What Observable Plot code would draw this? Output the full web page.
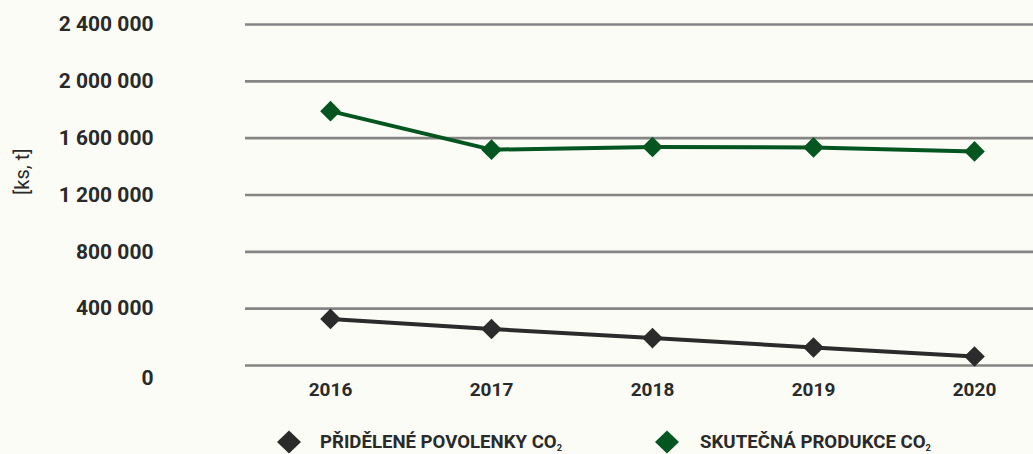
<!DOCTYPE html>
<html>
<head>
<meta charset="utf-8">
<script src="https://cdn.jsdelivr.net/npm/d3@7"></script>
<script src="https://cdn.jsdelivr.net/npm/@observablehq/plot@0.6"></script>
<style>
  html, body { margin: 0; padding: 0; background: #fbfcf5; }
  #chart svg { display: block; }
  #legend { display: block; }
</style>
</head>
<body>
<div id="chart"></div>
<script>
// ---- data ----
const years = ["2016", "2017", "2018", "2019", "2020"];
const seriesNames = ["PŘIDĚLENÉ POVOLENKY CO₂", "SKUTEČNÁ PRODUKCE CO₂"];
const seriesColors = ["#2b2b2b", "#03561f"];
const allocated = [328000, 257000, 193000, 127000, 63000];
const actual = [1790000, 1519000, 1538000, 1535000, 1507000];
const yTicks = [0, 400000, 800000, 1200000, 1600000, 2000000, 2400000];
const yAxisLabel = "[ks, t]";

// ---- table ----
const rows = [];
years.forEach((y, i) => {
  rows.push({year: y, series: seriesNames[0], value: allocated[i]});
  rows.push({year: y, series: seriesNames[1], value: actual[i]});
});

const fmt = v => d3.format(",")(v).replace(/,/g, "\u00a0");
const textColor = "#2a2a2a";
const font = "Roboto, 'Noto Sans', sans-serif";

const W = 1033, H = 412;
const chart = Plot.plot({
  width: W,
  height: H,
  marginLeft: 245,
  marginRight: 0,
  marginTop: 24,
  marginBottom: H - 365,
  style: {background: "#fbfcf5", fontFamily: font, color: textColor, overflow: "visible"},
  x: {type: "point", domain: years, insetLeft: 84, insetRight: 58, padding: 0},
  y: {domain: [0, 2400000]},
  color: {domain: seriesNames, range: seriesColors},
  marks: [
    Plot.ruleY(yTicks, {stroke: "#858585", strokeWidth: 2.6}),
    Plot.axisY(yTicks.filter(d => d !== 0), {
      tickSize: 0, tickPadding: 92, tickFormat: fmt, label: null,
      fontSize: 21, fontWeight: 700, fill: textColor
    }),
    Plot.axisY([0], {
      tickSize: 0, tickPadding: 92, tickFormat: fmt, label: null, dy: 13,
      fontSize: 21, fontWeight: 700, fill: textColor
    }),
    Plot.axisX({
      tickSize: 0, tickPadding: 17, label: null,
      fontSize: 19, fontWeight: 700, fill: textColor
    }),
    Plot.text([yAxisLabel], {
      frameAnchor: "left", dx: -223, rotate: -90, text: d => d,
      fontSize: 20, fill: textColor
    }),
    Plot.line(rows, {x: "year", y: "value", z: "series", stroke: "series", strokeWidth: 4}),
    Plot.dot(rows, {x: "year", y: "value", fill: "series", symbol: "diamond2", r: 9.3, stroke: "none"})
  ]
});
document.getElementById("chart").appendChild(chart);

// ---- legend (below the SVG) ----
const legendX = [289, 667];
const textX = [320, 700];
const textLen = [242, 231];
const LH = 454 - H;
const ns = "http://www.w3.org/2000/svg";
const leg = document.createElementNS(ns, "svg");
leg.setAttribute("id", "legend");
leg.setAttribute("width", W);
leg.setAttribute("height", LH);
const cy = 442 - H;
seriesNames.forEach((name, i) => {
  const p = document.createElementNS(ns, "path");
  const cx = legendX[i];
  p.setAttribute("d", `M${cx},${cy-11.5}L${cx+12},${cy}L${cx},${cy+11.5}L${cx-12},${cy}Z`);
  p.setAttribute("fill", seriesColors[i]);
  leg.appendChild(p);
  const t = document.createElementNS(ns, "text");
  t.setAttribute("x", textX[i]);
  t.setAttribute("y", cy);
  t.setAttribute("dy", "0.36em");
  t.setAttribute("font-family", font);
  t.setAttribute("font-weight", "700");
  t.setAttribute("font-size", "18");
  t.setAttribute("fill", textColor);
  t.setAttribute("textLength", textLen[i]);
  t.setAttribute("lengthAdjust", "spacingAndGlyphs");
  const main = name.replace("₂", "");
  t.appendChild(document.createTextNode(main));
  const sub = document.createElementNS(ns, "tspan");
  sub.setAttribute("font-size", "9");
  sub.setAttribute("dy", "0.25em");
  sub.textContent = "2";
  t.appendChild(sub);
  leg.appendChild(t);
});
document.body.appendChild(leg);
</script>
</body>
</html>
